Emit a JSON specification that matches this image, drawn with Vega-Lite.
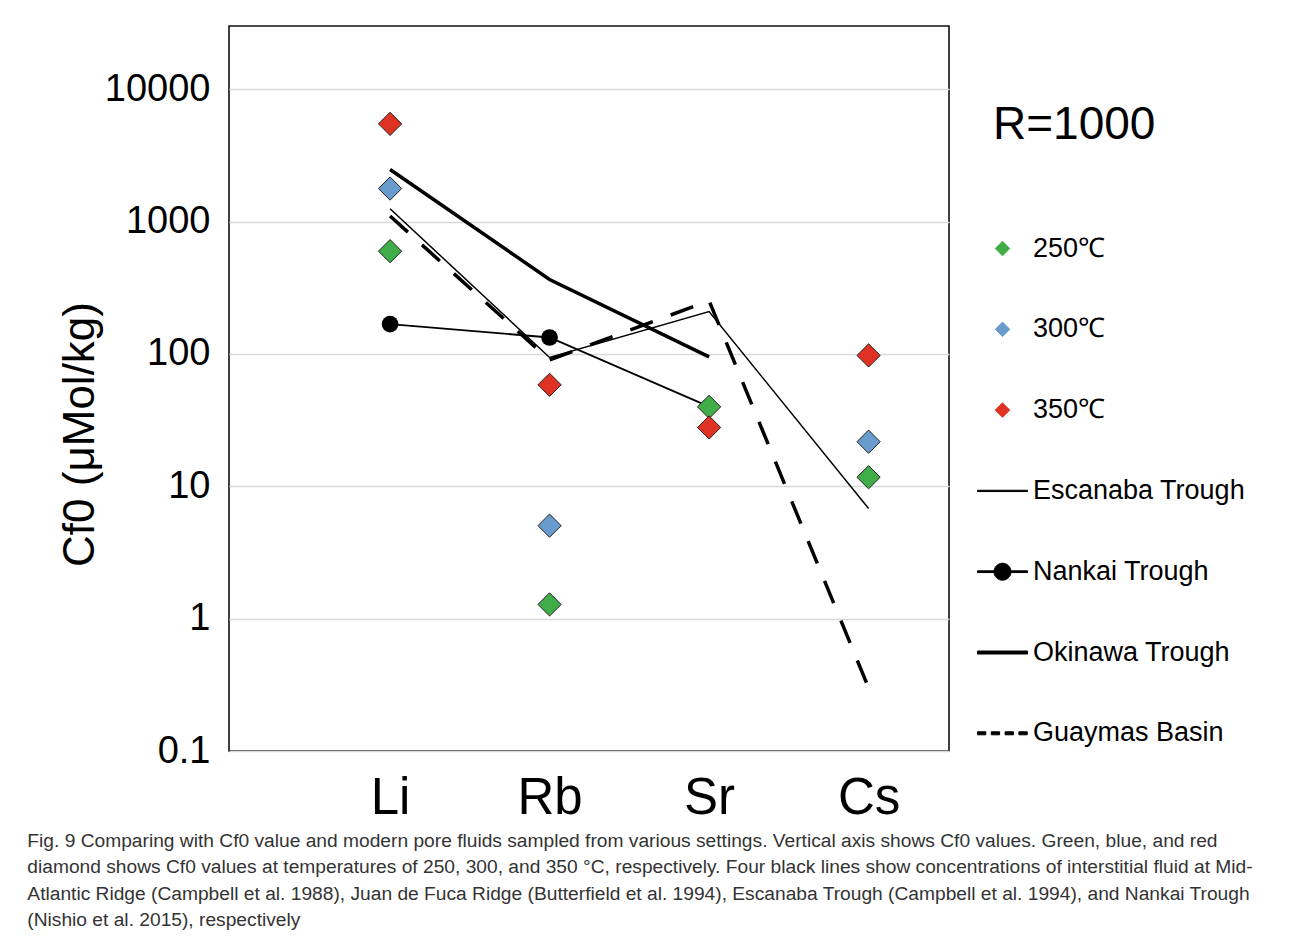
{
  "$schema": "https://vega.github.io/schema/vega-lite/v6.json",
  "width": 720,
  "height": 725,
  "autosize": {"type": "none"},
  "padding": {"left": 229, "top": 26, "right": 343, "bottom": 185},
  "background": "white",
  "config": {
    "view": {"stroke": "#111111", "strokeWidth": 1.6},
    "font": "Liberation Sans"
  },
  "title": {
    "text": [
      "Fig. 9 Comparing with Cf0 value and modern pore fluids sampled from various settings. Vertical axis shows Cf0 values. Green, blue, and red",
      "diamond shows Cf0 values at temperatures of 250, 300, and 350 °C, respectively. Four black lines show concentrations of interstitial fluid at Mid-",
      "Atlantic Ridge (Campbell et al. 1988), Juan de Fuca Ridge (Butterfield et al. 1994), Escanaba Trough (Campbell et al. 1994), and Nankai Trough",
      "(Nishio et al. 2015), respectively"
    ],
    "orient": "bottom",
    "anchor": "start",
    "frame": "bounds",
    "font": "Liberation Sans",
    "fontSize": 19.2,
    "fontWeight": "normal",
    "color": "#333333",
    "lineHeight": 26.5,
    "offset": 8.5,
    "dx": -31
  },
  "data": {
    "values": [
      {"element": "Li", "series": "Escanaba Trough", "kind": "fluid", "value": 1250},
      {"element": "Rb", "series": "Escanaba Trough", "kind": "fluid", "value": 94},
      {"element": "Sr", "series": "Escanaba Trough", "kind": "fluid", "value": 209},
      {"element": "Cs", "series": "Escanaba Trough", "kind": "fluid", "value": 6.8},
      {"element": "Li", "series": "Nankai Trough", "kind": "fluid", "value": 168},
      {"element": "Rb", "series": "Nankai Trough", "kind": "fluid", "value": 133},
      {"element": "Sr", "series": "Nankai Trough", "kind": "fluid", "value": 40},
      {"element": "Li", "series": "Okinawa Trough", "kind": "fluid", "value": 2470},
      {"element": "Rb", "series": "Okinawa Trough", "kind": "fluid", "value": 365},
      {"element": "Sr", "series": "Okinawa Trough", "kind": "fluid", "value": 95},
      {"element": "Li", "series": "Guaymas Basin", "kind": "fluid", "value": 1100},
      {"element": "Rb", "series": "Guaymas Basin", "kind": "fluid", "value": 90},
      {"element": "Sr", "series": "Guaymas Basin", "kind": "fluid", "value": 252},
      {"element": "Cs", "series": "Guaymas Basin", "kind": "fluid", "value": 0.3},
      {"element": "Li", "series": "250℃", "kind": "temp", "value": 597},
      {"element": "Rb", "series": "250℃", "kind": "temp", "value": 1.28},
      {"element": "Sr", "series": "250℃", "kind": "temp", "value": 39.8},
      {"element": "Cs", "series": "250℃", "kind": "temp", "value": 11.7},
      {"element": "Li", "series": "300℃", "kind": "temp", "value": 1775},
      {"element": "Rb", "series": "300℃", "kind": "temp", "value": 5.04},
      {"element": "Cs", "series": "300℃", "kind": "temp", "value": 21.7},
      {"element": "Li", "series": "350℃", "kind": "temp", "value": 5470},
      {"element": "Rb", "series": "350℃", "kind": "temp", "value": 58.4},
      {"element": "Sr", "series": "350℃", "kind": "temp", "value": 27.8},
      {"element": "Cs", "series": "350℃", "kind": "temp", "value": 97.3}
    ]
  },
  "encoding": {
    "x": {
      "field": "element",
      "type": "nominal",
      "scale": {"type": "point", "domain": ["Li", "Rb", "Sr", "Cs"], "padding": 0.757, "align": 0.667},
      "axis": {
        "title": null,
        "labelAngle": 0,
        "labelFontSize": 51,
        "labelColor": "black",
        "labelPadding": 22,
        "ticks": false,
        "domain": false,
        "grid": false
      }
    },
    "y": {
      "field": "value",
      "type": "quantitative",
      "scale": {"type": "log", "domain": [0.1, 30000], "nice": false},
      "axis": {
        "title": "Cf0 (μMol/kg)",
        "titleFontSize": 44,
        "titleFontWeight": "normal",
        "titleColor": "black",
        "titlePadding": 2,
        "titleY": 408,
        "values": [0.1, 1, 10, 100, 1000, 10000],
        "format": "~g",
        "labelFontSize": 38,
        "labelColor": "black",
        "labelPadding": 19,
        "ticks": false,
        "domain": false,
        "grid": true,
        "gridColor": "#d9d9d9",
        "gridWidth": 1.4
      }
    },
    "color": {
      "field": "series",
      "type": "nominal",
      "scale": {
        "domain": ["250℃", "300℃", "350℃", "Escanaba Trough", "Nankai Trough", "Okinawa Trough", "Guaymas Basin"],
        "range": ["#41AD49", "#6A9BCD", "#E03222", "black", "black", "black", "black"]
      },
      "legend": {
        "title": "R=1000",
        "orient": "right",
        "offset": 28,
        "padding": 0,
        "titleFontSize": 46,
        "titleFontWeight": "normal",
        "titleColor": "black",
        "titleLimit": 400,
        "titlePadding": 151,
        "labelFontSize": 27,
        "labelColor": "black",
        "labelLimit": 400,
        "labelOffset": 5,
        "symbolSize": 2500,
        "symbolOffset": 0,
        "symbolStrokeWidth": 1,
        "rowPadding": 41.8,
        "encode": {
          "title": {"update": {"dx": {"value": 16}, "dy": {"value": 77}}},
          "symbols": {
            "update": {
              "size": {"value": 2500},
              "strokeWidth": {"value": 1},
              "shape": {"signal": "datum.value === 'Nankai Trough' ? 'M-1,-0.035H1V0.035H-1ZM-0.34,0A0.34,0.34 0 1,1 0.34,0A0.34,0.34 0 1,1 -0.34,0Z' : datum.value === 'Escanaba Trough' ? 'M-1,-0.026H1V0.026H-1Z' : datum.value === 'Okinawa Trough' ? 'M-1,-0.06H1V0.06H-1Z' : datum.value === 'Guaymas Basin' ? 'M-1,-0.06H-0.668V0.06H-1ZM-0.448,-0.06H-0.116V0.06H-0.448ZM0.104,-0.06H0.436V0.06H0.104ZM0.656,-0.06H0.988V0.06H0.656Z' : 'M-0.29,0L0,-0.29L0.29,0L0,0.29Z'"},
              "fill": {"signal": "scale('color', datum.value)"},
              "stroke": {"signal": "indexof(['250℃','300℃','350℃'], datum.value) >= 0 ? '#222222' : 'transparent'"},
              "opacity": {"value": 1}
            }
          }
        }
      }
    }
  },
  "layer": [
    {
      "transform": [{"filter": "datum.series === 'Escanaba Trough'"}],
      "mark": {"type": "line", "strokeWidth": 1.5},
      "encoding": {"order": {"value": null}}
    },
    {
      "transform": [{"filter": "datum.series === 'Nankai Trough'"}],
      "mark": {"type": "line", "strokeWidth": 1.8},
      "encoding": {"order": {"value": null}}
    },
    {
      "transform": [{"filter": "datum.series === 'Okinawa Trough'"}],
      "mark": {"type": "line", "strokeWidth": 3.5},
      "encoding": {"order": {"value": null}}
    },
    {
      "transform": [{"filter": "datum.series === 'Guaymas Basin'"}],
      "mark": {"type": "line", "strokeWidth": 3.5, "strokeDash": [24, 19]},
      "encoding": {"order": {"value": null}}
    },
    {
      "transform": [{"filter": "datum.series === 'Nankai Trough' && datum.element !== 'Sr'"}],
      "mark": {"type": "point", "shape": "circle", "filled": true, "size": 280, "opacity": 1},
      "encoding": {}
    },
    {
      "transform": [{"filter": "datum.kind === 'temp'"}],
      "mark": {"type": "point", "shape": "diamond", "filled": true, "size": 540, "stroke": "#222222", "strokeWidth": 1, "opacity": 1},
      "encoding": {}
    }
  ]
}
